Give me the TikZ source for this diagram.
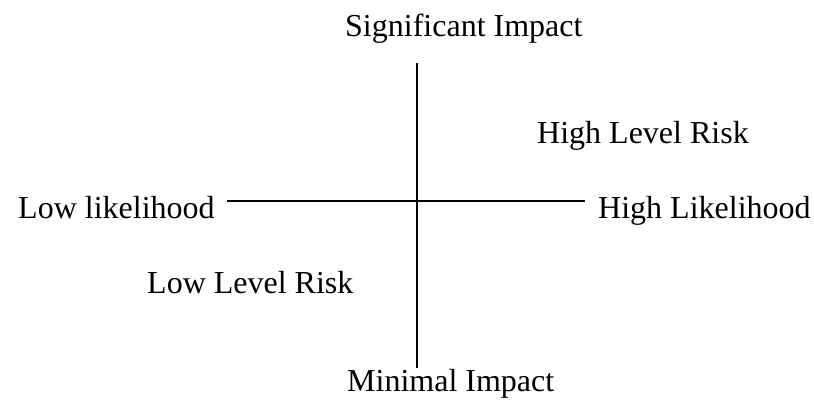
\documentclass[tikz,border=0pt]{standalone}
\usepackage{fontspec}
\setmainfont{Liberation Serif}
\usetikzlibrary{positioning}

\begin{document}
\begin{tikzpicture}
    [x=1pt,y=-1pt,%
      every node/.style={inner sep=0pt,anchor=base west,font=\fontsize{32}{38}\selectfont},%
      axis/.style={-,line width=1.6pt}]
    \useasboundingbox (0,0) rectangle (814,409);
    \coordinate (top) at (417,63);
    \coordinate (bottom) at (417,368);
    \coordinate (left) at (227,201);
    \coordinate (right) at (585,201);
    \draw[axis] (top) -- (bottom);
    \draw[axis] (left) -- (right);
    \node (sig) at (345,37) {Significant Impact};
    \node (minimal) at (347,391) {Minimal Impact};
    \node (lowlik) at (18,218) {Low likelihood};
    \node (highlik) at (598,218) {High Likelihood};
    \node (highrisk) at (537,144) {High Level Risk};
    \node (lowrisk) at (147,293) {Low Level Risk};
\end{tikzpicture}
\end{document}
